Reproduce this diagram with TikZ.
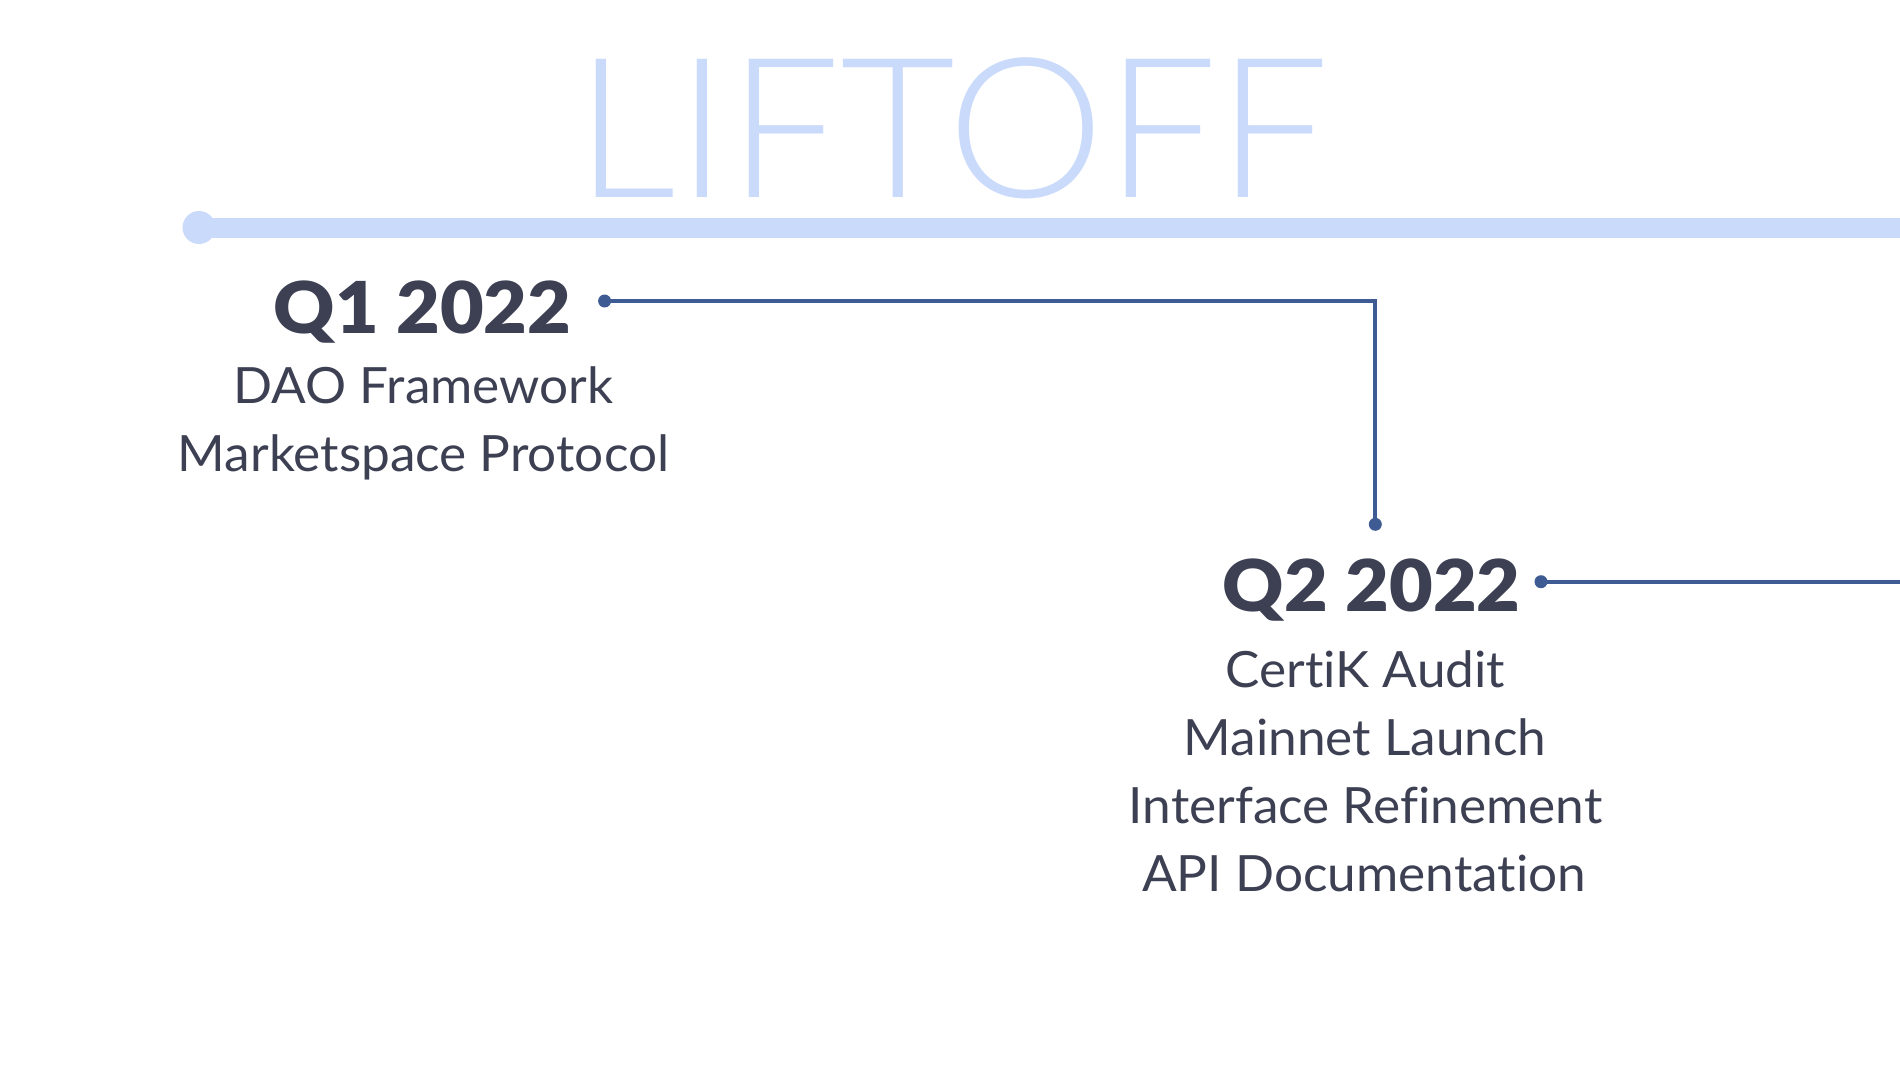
\documentclass[tikz,border=0pt]{standalone}
\usepackage{fontspec}
\setmainfont{Lato}[Ligatures={NoCommon,NoRare,NoContextual}]
\newfontfamily\headfont{Lato Black}[Ligatures={NoCommon,NoRare,NoContextual}]
\newfontfamily\liftfont{Lato Light}
\definecolor{lightline}{HTML}{CADAFB}
\definecolor{inkdark}{HTML}{3C4052}
\definecolor{connblue}{HTML}{3E5B93}
\newcommand{\bodywide}[1]{\scalebox{1.027}[1]{#1}}
\newcommand{\headwide}[1]{\scalebox{1.055}[1]{#1}}
\tikzset{
  bodytext/.style={anchor=base, inner sep=0pt, text=inkdark, font=\fontsize{50}{60}\selectfont},
  headtext/.style={anchor=base, inner sep=0pt, text=inkdark, font=\headfont\fontsize{71.5}{80}\selectfont},
  smalldot/.style={circle, fill=connblue, minimum size=13pt, inner sep=0pt},
  bigdot/.style={circle, fill=lightline, minimum size=33pt, inner sep=0pt},
  connector/.style={draw=connblue, line width=4pt},
  timeline/.style={draw=lightline, line width=20pt}
}
\begin{document}
\begin{tikzpicture}[x=1pt,y=-1pt]
\useasboundingbox (0,0) rectangle (1900,1069);
% title
\node[anchor=base, inner sep=0pt, text=lightline, font=\liftfont\fontsize{195.4}{200}\selectfont] (title) at (952.5,197.7) {\scalebox{1.018}[1]{LIFTOFF}};
% timeline
\node[bigdot] (tstart) at (199,227.5) {};
\coordinate (tend) at (1900,227.5);
\draw[timeline] (tstart.center) -- (tend);
% Q1
\node[headtext] (q1) at (422.5,333) {\headwide{Q1 2022}};
\node[bodytext] (q1a) at (423.5,403.5) {\bodywide{DAO Framework}};
\node[bodytext] (q1b) at (423.5,471.7) {\bodywide{Marketspace Protocol}};
\node[smalldot] (d1) at (604.6,301) {};
\node[smalldot] (d2) at (1375.3,524.3) {};
\draw[connector] (d1.center) -| (d2.center);
% Q2
\node[headtext] (q2) at (1371.7,611.5) {\headwide{Q2 2022}};
\node[bodytext] (q2a) at (1365.5,687.5) {\bodywide{CertiK Audit}};
\node[bodytext] (q2b) at (1365,755) {\bodywide{Mainnet Launch}};
\node[bodytext] (q2c) at (1365.5,823) {\bodywide{Interface Refinement}};
\node[bodytext] (q2d) at (1364,891.7) {\bodywide{API Documentation}};
\node[smalldot] (d3) at (1541,581.7) {};
\coordinate (q2end) at (1900,581.7);
\draw[connector] (d3.center) -- (q2end);
\end{tikzpicture}
\end{document}
